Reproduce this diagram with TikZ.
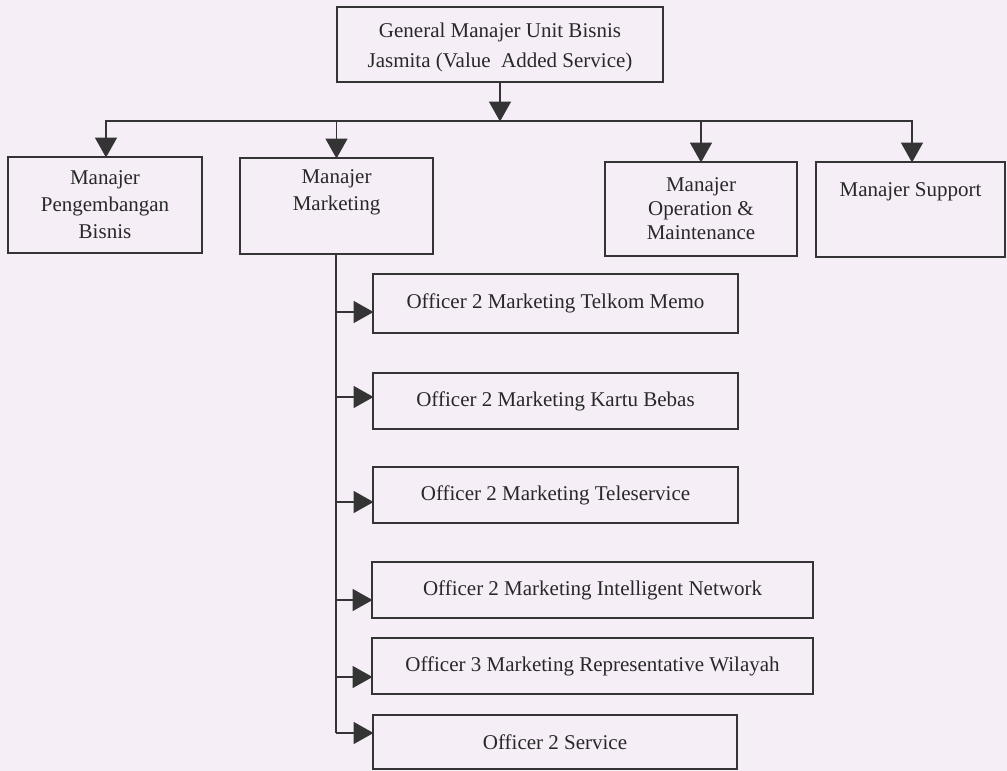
\documentclass[tikz,border=0pt]{standalone}
\usepackage{fontspec}
\setmainfont{Liberation Serif}
\usetikzlibrary{arrows.meta}
\definecolor{bgpink}{RGB}{246,238,247}
\definecolor{ink}{RGB}{52,52,52}
\definecolor{txtc}{RGB}{40,40,40}
\begin{document}
\begin{tikzpicture}[x=1pt,y=-1pt,
  box/.style={draw=ink, line width=1.8pt, rectangle, inner sep=0pt, outer sep=0pt,
    align=center, text=txtc, font=\fontsize{21}{27}\selectfont},
  lbl/.style={inner sep=0pt, align=center, text=txtc, font=\fontsize{21}{27}\selectfont},
  conn/.style={draw=ink, line width=1.8pt},
  arr/.style={conn, -{Triangle[length=20pt,width=22pt]}, shorten >=-0.5pt}
]
\fill[bgpink] (0,0) rectangle (1007,771);
\useasboundingbox (0,0) rectangle (1007,771);

% top box
\node[box, minimum width=326pt, minimum height=75pt] (gm) at (500,44.5) {};
\node[lbl] (gmt) at (500,47)
  {General Manajer Unit Bisnis\\[3pt]Jasmita (Value\ \ Added Service)};

% managers
\node[box, minimum width=194pt, minimum height=96pt] (pb) at (105,205)
  {Manajer\\Pengembangan\\Bisnis};
\node[box, minimum width=193pt, minimum height=96pt] (mkt) at (336.5,206) {};
\node[lbl, anchor=north] (mktt) at ([yshift=-6pt]mkt.north) {\strut Manajer\\\strut Marketing};
\node[box, minimum width=192pt, minimum height=94pt] (ops) at (701,209)
  {Manajer\\[-3pt]Operation \&\\[-3pt]Maintenance};
\node[box, minimum width=189pt, minimum height=95pt] (sup) at (910.5,209.5) {};
\node[lbl, anchor=north] (supt) at ([yshift=-15pt]sup.north) {\strut Manajer Support};

% officers
\node[box, minimum width=365pt, minimum height=59pt] (o1) at (555.5,303.5) {Officer 2 Marketing Telkom Memo};
\node[box, minimum width=365pt, minimum height=56pt] (o2) at (555.5,401) {Officer 2 Marketing Kartu Bebas};
\node[box, minimum width=365pt, minimum height=56pt] (o3) at (555.5,495) {Officer 2 Marketing Teleservice};
\node[box, minimum width=441pt, minimum height=56pt] (o4) at (592.5,590) {Officer 2 Marketing Intelligent Network};
\node[box, minimum width=441pt, minimum height=56pt] (o5) at (592.5,666) {Officer 3 Marketing Representative Wilayah};
\node[box, minimum width=364pt, minimum height=54pt] (o6) at (555,742) {Officer 2 Service};

% bus
\coordinate (busL) at (106,121);
\coordinate (busR) at (912,121);
\draw[conn, line cap=rect] (busL) -- (busR);
\draw[arr] (gm.south) -- (gm.south |- busL);
\draw[arr] (busL) -- (busL |- pb.north);
\draw[arr] (mkt.north |- busL) -- (mkt.north);
\draw[arr] (ops.north |- busL) -- (ops.north);
\draw[arr] (busR) -- (busR |- sup.north);

% marketing trunk
\coordinate (t1) at (336,312);
\coordinate (t2) at (336,397);
\coordinate (t3) at (336,502);
\coordinate (t4) at (336,600);
\coordinate (t5) at (336,677);
\coordinate (t6) at (336,733);
\draw[conn] (mkt.south -| t1) -- (t6);
\draw[arr] (t1) -- (t1 -| o1.west);
\draw[arr] (t2) -- (t2 -| o2.west);
\draw[arr] (t3) -- (t3 -| o3.west);
\draw[arr] (t4) -- (t4 -| o4.west);
\draw[arr] (t5) -- (t5 -| o5.west);
\draw[arr] (t6) -- (t6 -| o6.west);
\end{tikzpicture}
\end{document}
